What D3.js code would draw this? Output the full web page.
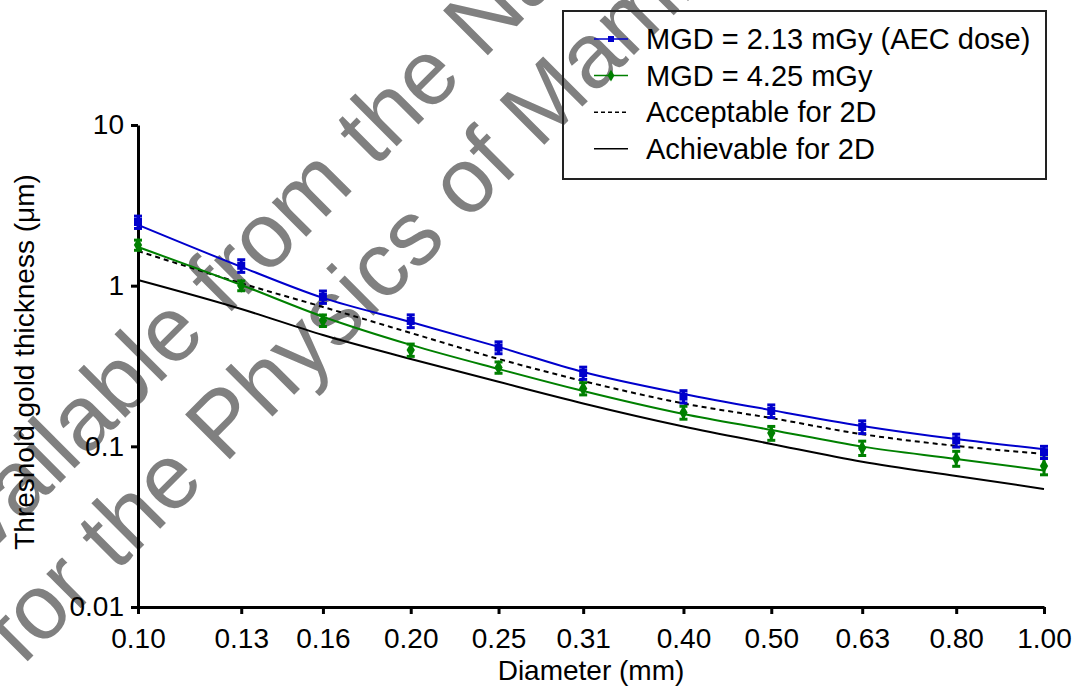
<!DOCTYPE html>
<html>
<head>
<meta charset="utf-8">
<script src="https://cdn.jsdelivr.net/npm/d3@7"></script>
<style>
  body { margin: 0; background: #fff; }
  svg { display: block; }
</style>
</head>
<body>
<svg id="chart" width="1075" height="686"></svg>
<script>
// Data
const diameters = [0.10, 0.13, 0.16, 0.20, 0.25, 0.31, 0.40, 0.50, 0.63, 0.80, 1.00];
const xTickLabels = ["0.10", "0.13", "0.16", "0.20", "0.25", "0.31", "0.40", "0.50", "0.63", "0.80", "1.00"];
const yTicks = [0.01, 0.1, 1, 10];
const yTickLabels = ["0.01", "0.1", "1", "10"];

// MGD = 2.13 mGy (AEC dose)
const aecMeasured = [2.49, 1.33, 0.851, 0.603, 0.412, 0.286, 0.204, 0.166, 0.132, 0.109, 0.092];
const aecError = [0.22, 0.12, 0.075, 0.055, 0.035, 0.025, 0.018, 0.015, 0.012, 0.010, 0.008];
const aecFit = [2.39, 1.31, 0.839, 0.594, 0.416, 0.290, 0.212, 0.168, 0.134, 0.111, 0.096];

// MGD = 4.25 mGy
const doubleMeasured = [1.79, 1.0, 0.607, 0.398, 0.310, 0.229, 0.1625, 0.121, 0.0977, 0.0841, 0.0755];
const doubleError = [0.13, 0.07, 0.05, 0.035, 0.025, 0.02, 0.015, 0.012, 0.010, 0.009, 0.009];
const doubleFit = [1.74, 1.01, 0.641, 0.428, 0.303, 0.221, 0.159, 0.1265, 0.0996, 0.0835, 0.0707];

// EUREF limits
const acceptable = [1.644, 1.035, 0.737, 0.508, 0.350, 0.255, 0.185, 0.150, 0.119, 0.1006, 0.0897];
const achievable = [1.085, 0.716, 0.493, 0.350, 0.252, 0.185, 0.133, 0.1035, 0.0803, 0.0654, 0.0543];

const legendLabels = ["MGD = 2.13 mGy (AEC dose)", "MGD = 4.25 mGy", "Acceptable for 2D", "Achievable for 2D"];
const watermarkLines = ["Available from the National Coordinating Centre", "for the Physics of Mammography"];

const font = "Arial, 'Liberation Sans', sans-serif";
const blue = "#0000cc";
const green = "#008000";

const svg = d3.select("#chart");

// Watermark (behind everything)
const wmPos = [[-55, 598], [22, 667]];
svg.append("g")
  .selectAll("text")
  .data(watermarkLines)
  .enter()
  .append("text")
  .attr("transform", (d, i) => `translate(${wmPos[i][0]},${wmPos[i][1]}) rotate(-45)`)
  .style("font-family", font)
  .style("font-size", "92px")
  .style("fill", "#808080")
  .text((d) => d);

// Scales
const x = d3.scaleLog().domain([0.1, 1]).range([138, 1044]);
const y = d3.scaleLog().domain([0.01, 10]).range([607, 125]);

// X axis
const xAxis = svg.append("g")
  .attr("transform", "translate(0,607)")
  .call(
    d3.axisBottom(x)
      .tickValues(diameters)
      .tickFormat((d, i) => xTickLabels[i])
      .tickSize(7)
      .tickSizeOuter(0)
      .tickPadding(14)
  );
xAxis.selectAll("text").style("font-family", font).style("font-size", "28px").style("fill", "#000");

// Y axis
const yAxis = svg.append("g")
  .attr("transform", "translate(138,0)")
  .call(
    d3.axisLeft(y)
      .tickValues(yTicks)
      .tickFormat((d, i) => yTickLabels[i])
      .tickSize(7)
      .tickSizeOuter(0)
      .tickPadding(7)
  );
yAxis.selectAll("text").style("font-family", font).style("font-size", "28px").style("fill", "#000");

svg.selectAll(".domain, .tick line")
  .attr("stroke", "#000")
  .attr("stroke-width", 3);

// Axis titles
svg.append("text")
  .attr("x", 591)
  .attr("y", 680)
  .attr("text-anchor", "middle")
  .style("font-family", font)
  .style("font-size", "28px")
  .text("Diameter (mm)");

svg.append("text")
  .attr("transform", "translate(34,362) rotate(-90)")
  .attr("text-anchor", "middle")
  .style("font-family", font)
  .style("font-size", "28px")
  .text("Threshold gold thickness (\u03bcm)");

// Lines
const line = d3.line()
  .x((d) => x(d[0]))
  .y((d) => y(d[1]))
  .curve(d3.curveMonotoneX);

const zip = (vals) => diameters.map((d, i) => [d, vals[i]]);

const lineSpecs = [
  { vals: achievable, color: "#000", width: 2, dash: null },
  { vals: acceptable, color: "#000", width: 2, dash: "5,4" },
  { vals: doubleFit, color: green, width: 2, dash: null },
  { vals: aecFit, color: blue, width: 2, dash: null },
];

svg.append("g")
  .selectAll("path")
  .data(lineSpecs)
  .enter()
  .append("path")
  .attr("d", (d) => line(zip(d.vals)))
  .attr("fill", "none")
  .attr("stroke", (d) => d.color)
  .attr("stroke-width", (d) => d.width)
  .attr("stroke-dasharray", (d) => d.dash);

// Error bars and markers
const drawSeries = (vals, errs, color, symbol, size) => {
  const g = svg.append("g");
  const pts = diameters.map((d, i) => ({ d, v: vals[i], e: errs[i] }));
  g.selectAll(".bar")
    .data(pts)
    .enter()
    .append("line")
    .attr("x1", (p) => x(p.d))
    .attr("x2", (p) => x(p.d))
    .attr("y1", (p) => y(p.v + p.e))
    .attr("y2", (p) => y(p.v - p.e))
    .attr("stroke", color)
    .attr("stroke-width", 3);
  ["hi", "lo"].forEach((k) => {
    g.selectAll(".cap-" + k)
      .data(pts)
      .enter()
      .append("line")
      .attr("x1", (p) => x(p.d) - 4)
      .attr("x2", (p) => x(p.d) + 4)
      .attr("y1", (p) => y(k === "hi" ? p.v + p.e : p.v - p.e))
      .attr("y2", (p) => y(k === "hi" ? p.v + p.e : p.v - p.e))
      .attr("stroke", color)
      .attr("stroke-width", 3);
  });
  g.selectAll(".marker")
    .data(pts)
    .enter()
    .append("path")
    .attr("transform", (p) => `translate(${x(p.d)},${y(p.v)})`)
    .attr("d", d3.symbol().type(symbol).size(size))
    .attr("fill", color);
};

drawSeries(doubleMeasured, doubleError, green, d3.symbolDiamond, 60);
drawSeries(aecMeasured, aecError, blue, d3.symbolSquare, 64);

// Legend
const legend = svg.append("g");
legend.append("rect")
  .attr("x", 563)
  .attr("y", 11)
  .attr("width", 483)
  .attr("height", 168)
  .attr("fill", "none")
  .attr("stroke", "#222")
  .attr("stroke-width", 2);

const legendItems = [
  { color: blue, dash: null, symbol: d3.symbolSquare, size: 36 },
  { color: green, dash: null, symbol: d3.symbolDiamond, size: 40 },
  { color: "#000", dash: "4,3", symbol: null },
  { color: "#000", dash: null, symbol: null },
];

legendItems.forEach((it, i) => {
  const cy = 39 + i * 36.6;
  legend.append("line")
    .attr("x1", 594)
    .attr("x2", 628)
    .attr("y1", cy)
    .attr("y2", cy)
    .attr("stroke", it.color)
    .attr("stroke-width", 1.5)
    .attr("stroke-dasharray", it.dash);
  if (it.symbol) {
    legend.append("path")
      .attr("transform", `translate(611,${cy})`)
      .attr("d", d3.symbol().type(it.symbol).size(it.size))
      .attr("fill", it.color);
  }
  legend.append("text")
    .attr("x", 646)
    .attr("y", cy + 10)
    .style("font-family", font)
    .style("font-size", "29px")
    .text(legendLabels[i]);
});
</script>
</body>
</html>
